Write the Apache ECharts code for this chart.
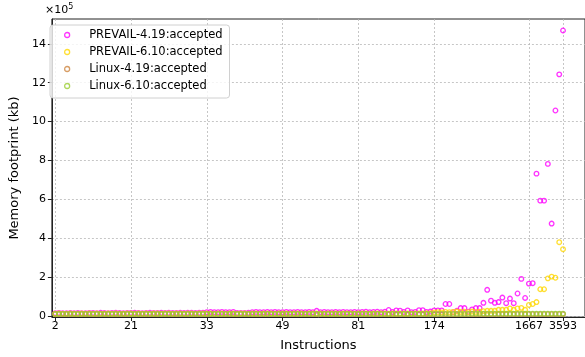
<!DOCTYPE html>
<html><head><meta charset="utf-8">
<script src="https://cdn.jsdelivr.net/npm/echarts@6/dist/echarts.min.js"></script>
<style>html,body{margin:0;padding:0;background:#fff}#c{width:585px;height:357px}</style>
</head><body><div id="c"></div>
<script>
const tickIndex = [0, 20, 40, 60, 80, 100, 125, 134];
const tickLabels = ['2', '21', '33', '49', '81', '174', '1667', '3593'];
const yTicks = [0, 200000, 400000, 600000, 800000, 1000000, 1200000, 1400000];
const seriesNames = ['PREVAIL-4.19:accepted', 'PREVAIL-6.10:accepted', 'Linux-4.19:accepted', 'Linux-6.10:accepted'];

const prevail419 = [
14000,15000,14000,13000,15000,14000,15000,14000,14000,15000,
15000,14000,16000,15000,14000,15000,16000,15000,14000,15000,
15000,16000,15000,14000,15000,16000,15000,15000,16000,15000,
16000,15000,15000,16000,15000,16000,16000,15000,16000,16000,
19000,20000,19000,19000,20000,19000,19000,20000,15000,15000,
15000,16000,19000,20000,19000,19000,20000,19000,20000,19000,
19000,20000,19000,19000,20000,19000,19000,20000,19000,26000,
19000,20000,19000,19000,20000,19000,20000,19000,19000,20000,
19000,20000,21000,19000,20000,21000,19000,21000,30000,20000,
28000,27000,20000,28000,19000,20000,29000,29000,20000,22000,
28000,28000,28000,61000,61000,19000,26000,40000,40000,21000,
33000,40000,40000,67000,134000,78000,67000,71000,94000,65000,
89000,65000,115000,190000,92000,166000,168000,732000,593000,593000,
782000,475000,1057000,1243000,1469000];

const prevail610 = [
11000,12000,11000,11000,12000,11000,11000,12000,11000,12000,
11000,12000,11000,11000,12000,11000,12000,11000,11000,12000,
12000,11000,12000,11000,12000,11000,12000,12000,11000,12000,
12000,11000,12000,12000,11000,12000,12000,11000,12000,12000,
12000,12000,11000,12000,12000,11000,12000,12000,11000,12000,
12000,11000,12000,12000,11000,12000,12000,12000,11000,12000,
12000,12000,11000,12000,12000,12000,11000,12000,12000,12000,
12000,11000,12000,12000,12000,11000,12000,12000,12000,11000,
12000,12000,12000,11000,12000,12000,12000,12000,11000,12000,
12000,12000,12000,12000,11000,12000,12000,12000,13000,13000,
18000,19000,18000,20000,19000,20000,22000,20000,21000,19000,
22000,20000,21000,24000,26000,26000,26000,31000,31000,31000,
38000,31000,38000,41000,31000,56000,61000,71000,137000,137000,
193000,202000,196000,379000,343000];

const linux419 = [
9000,9000,9000,9000,9000,9000,9000,9000,9000,9000,
9000,9000,9000,9000,9000,9000,9000,9000,9000,9000,
9000,9000,9000,9000,9000,9000,9000,9000,9000,9000,
9000,9000,9000,9000,9000,9000,9000,9000,9000,9000,
9000,9000,9000,9000,9000,9000,9000,9000,9000,9000,
9000,9000,9000,9000,9000,9000,9000,9000,9000,9000,
9000,9000,9000,9000,9000,9000,9000,9000,9000,9000,
9000,9000,9000,9000,9000,9000,9000,9000,9000,9000,
9000,9000,9000,9000,9000,9000,9000,9000,9000,9000,
9000,9000,9000,9000,9000,9000,9000,9000,9000,9000,
9000,9000,9000,9000,9000,9000,9000,9000,9000,9000,
9000,9000,9000,9000,9000,9000,9000,9000,9000,9000,
9000,9000,9000,9000,9000,9000,9000,9000,9000,9000,
9000,9000,9000,9000,9000];

const linux610 = [
10000,10000,10000,10000,10000,10000,10000,10000,10000,10000,
10000,10000,10000,10000,10000,10000,10000,10000,10000,10000,
10000,10000,10000,10000,10000,10000,10000,10000,10000,10000,
10000,10000,10000,10000,10000,10000,10000,10000,10000,10000,
10000,10000,10000,10000,10000,10000,10000,10000,10000,10000,
10000,10000,10000,10000,10000,10000,10000,10000,10000,10000,
10000,10000,10000,10000,10000,10000,10000,10000,10000,10000,
10000,10000,10000,10000,10000,10000,10000,10000,10000,10000,
10000,10000,10000,10000,10000,10000,10000,10000,10000,10000,
10000,10000,10000,10000,10000,10000,10000,10000,10000,10000,
10000,10000,10000,10000,10000,10000,10000,10000,10000,10000,
11000,11000,11000,11000,11000,11000,11000,11000,11000,11000,
11000,11000,11000,11000,11000,11000,11000,11000,11000,11000,
11000,11000,11000,11000,11000];

const colors = ['#ff00ff', '#ffd700', '#cd853f', '#9acd32'];
const allData = [prevail419, prevail610, linux419, linux610];

const FONT = 'DejaVu Sans';
const chart = echarts.init(document.getElementById('c'), null, {renderer: 'canvas'});
const gridLine = {show: true, lineStyle: {color: '#b8b8b8', type: [2, 2], width: 0.8}};

chart.setOption({
  animation: false,
  backgroundColor: '#fff',
  grid: {left: 45, top: 19, bottom: 35, right: -2, show: true, borderColor: '#222', borderWidth: 1, backgroundColor: 'transparent'},
  xAxis: {
    type: 'value', min: -0.86, max: 139.8,
    name: 'Instructions', nameLocation: 'middle', nameGap: 22,
    nameTextStyle: {fontFamily: FONT, fontSize: 13, color: '#000'},
    axisLine: {show: true, onZero: false, lineStyle: {color: '#222', width: 1}},
    axisTick: {show: true, length: 4, customValues: tickIndex, lineStyle: {color: '#222'}},
    axisLabel: {customValues: tickIndex, fontFamily: FONT, fontSize: 11, color: '#000', margin: 4,
      formatter: v => { const k = tickIndex.indexOf(Math.round(v)); return k >= 0 ? tickLabels[k] : ''; }},
    splitLine: gridLine
  },
  yAxis: {
    type: 'value', min: -6000, max: 1528000,
    name: 'Memory footprint (kb)', nameLocation: 'middle', nameGap: 29,
    nameTextStyle: {fontFamily: FONT, fontSize: 13, color: '#000'},
    axisLine: {show: true, onZero: false, lineStyle: {color: '#222', width: 1}},
    axisTick: {show: true, length: 4, customValues: yTicks, lineStyle: {color: '#222'}},
    axisLabel: {customValues: yTicks, fontFamily: FONT, fontSize: 11, color: '#000', margin: 6,
      formatter: v => String(Math.round(v / 100000))},
    splitLine: gridLine
  },
  legend: {
    orient: 'vertical', left: 50, top: 25,
    padding: [3, 7, 5, 14], itemGap: 3, itemWidth: 34, itemHeight: 5,
    backgroundColor: 'rgba(255,255,255,0.8)', borderColor: '#d0d0d0', borderWidth: 1, borderRadius: 3,
    textStyle: {fontFamily: FONT, fontSize: 11.5, color: '#000', lineHeight: 14},
    data: seriesNames.map((n, i) => ({name: n, icon: 'circle', itemStyle: {color: 'rgba(0,0,0,0)', borderColor: colors[i], borderWidth: 1.3}}))
  },
  graphic: [{
    type: 'text', left: 45, top: 3,
    style: {text: '×10{s|5}', fontFamily: FONT, fontSize: 11, fill: '#000',
      rich: {s: {fontSize: 8, verticalAlign: 'top', fontFamily: FONT, padding: [0, 0, 6, 0]}}}
  }],
  series: allData.map((d, i) => ({
    name: seriesNames[i], type: 'scatter', symbol: 'circle', symbolSize: 4.6,
    itemStyle: {color: 'rgba(0,0,0,0)', borderColor: colors[i], borderWidth: 1.3},
    data: d.map((v, k) => [k, v])
  }))
});
</script></body></html>
